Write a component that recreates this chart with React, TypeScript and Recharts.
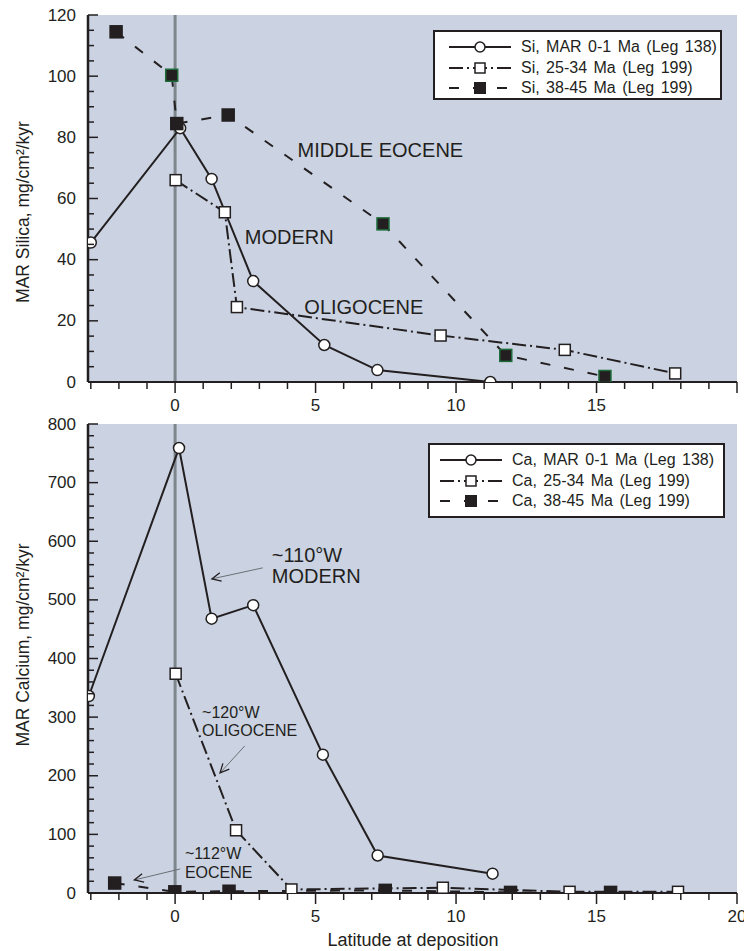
import React from 'react';
import {
  CartesianGrid,
  Legend,
  Line,
  LineChart,
  ReferenceDot,
  ReferenceLine,
  XAxis,
  YAxis,
} from 'recharts';

const FONT = '"Liberation Sans", Arial, Helvetica, sans-serif';
const INK = '#231f20';
const BG = '#cbd3e2';
const ZERO = '#7d868c';
const EDGE = '#1e6b3a';
const ARROW = '#6b6f75';

// latitude axis
const latDomain = [-3.1, 20];
const latMinor = [-3, -2, -1, 0, 1, 2, 3, 4, 5, 6, 7, 8, 9, 10, 11, 12, 13, 14, 15, 16, 17, 18, 19, 20];
const siLatLabels = [0, 5, 10, 15];
const caLatLabels = [0, 5, 10, 15, 20];

// silica panel
const siLabels = [0, 20, 40, 60, 80, 100, 120];
const siModernLat = [-3.0, 0.18, 1.3, 2.78, 5.31, 7.2, 11.22];
const siModernMar = [45.6, 83, 66.4, 33, 12.1, 3.9, 0];
const siOligoLat = [0.02, 1.77, 2.2, 9.45, 13.87, 17.8];
const siOligoMar = [66, 55.5, 24.5, 15.2, 10.5, 2.8];
const siEoceneLat = [-2.1, -0.12, 0.06, 1.89, 7.4, 11.77, 15.3];
const siEoceneMar = [114.5, 100.3, 84.5, 87.3, 51.7, 8.7, 1.8];
const siEoceneEdged = [1, 4, 5, 6];
const siNames = ['Si, MAR 0-1 Ma (Leg 138)', 'Si, 25-34 Ma (Leg 199)', 'Si, 38-45 Ma (Leg 199)'];

// calcium panel
const caLabels = [0, 100, 200, 300, 400, 500, 600, 700, 800];
const caModernLat = [-3.07, 0.14, 1.3, 2.78, 5.26, 7.21, 11.3];
const caModernMar = [336, 759, 468, 491, 236, 64, 33];
const caOligoLat = [0.02, 2.17, 4.14, 9.53, 14.04, 17.9];
const caOligoMar = [374, 107, 6, 9, 2, 2];
const caEoceneLat = [-2.15, -0.01, 1.92, 7.48, 11.94, 15.5];
const caEoceneMar = [17, 2, 3, 4.5, 1, 1];
const caNames = ['Ca, MAR 0-1 Ma (Leg 138)', 'Ca, 25-34 Ma (Leg 199)', 'Ca, 38-45 Ma (Leg 199)'];

const zip = (lat: number[], mar: number[]) => lat.map((x, i) => ({ lat: x, mar: mar[i] }));
const steps = (max: number, step: number) => {
  const out: number[] = [];
  for (let v = 0; v <= max; v += step) out.push(v);
  return out;
};

// ---- marks ----
const OpenCircle = (p: any) =>
  p.cx == null ? <g /> : <circle cx={p.cx} cy={p.cy} r={5.5} fill="#fff" stroke={INK} strokeWidth={1.5} />;

const OpenSquare = (p: any) =>
  p.cx == null ? <g /> : <rect x={p.cx - 5.5} y={p.cy - 5.5} width={11} height={11} fill="#fff" stroke={INK} strokeWidth={1.5} />;

const filledSquare = (edged: number[]) => (p: any) =>
  p.cx == null ? (
    <g />
  ) : (
    <rect
      x={p.cx - 6}
      y={p.cy - 6}
      width={12}
      height={12}
      fill={INK}
      stroke={edged.includes(p.index) ? EDGE : INK}
      strokeWidth={1.5}
    />
  );

// ---- ticks ----
const bottomTick = (labels: number[]) => (p: any) => {
  const v = p.payload.value;
  const major = v % 5 === 0;
  return (
    <g>
      <line x1={p.x} x2={p.x} y1={p.y} y2={p.y + (major ? 11 : 7)} stroke={INK} strokeWidth={1.5} />
      {labels.includes(v) && (
        <text x={p.x} y={p.y + 23} textAnchor="middle" dominantBaseline="central" fill={INK} fontSize={17} fontFamily={FONT}>
          {v}
        </text>
      )}
    </g>
  );
};

const topTick = (p: any) => {
  const major = p.payload.value % 5 === 0;
  return <line x1={p.x} x2={p.x} y1={p.y} y2={p.y + (major ? 10 : 6)} stroke={INK} strokeWidth={1.5} />;
};

const leftTick = (labels: number[]) => (p: any) => {
  const v = p.payload.value;
  const major = labels.includes(v);
  return (
    <g>
      <line x1={p.x} x2={p.x + (major ? 10 : 6)} y1={p.y} y2={p.y} stroke={INK} strokeWidth={1.5} />
      {major && (
        <text x={p.x - 12} y={p.y} textAnchor="end" dominantBaseline="central" fill={INK} fontSize={17} fontFamily={FONT}>
          {v}
        </text>
      )}
    </g>
  );
};

const rightTick = (labels: number[]) => (p: any) => {
  const major = labels.includes(p.payload.value);
  return <line x1={p.x - (major ? 10 : 6)} x2={p.x} y1={p.y} y2={p.y} stroke={INK} strokeWidth={1.5} />;
};

const rotatedTitle = (text: string, cx: number, cy: number) => () => (
  <text
    x={cx}
    y={cy}
    transform={`rotate(-90 ${cx} ${cy})`}
    textAnchor="middle"
    dominantBaseline="central"
    fill={INK}
    fontSize={17.5}
    fontFamily={FONT}
  >
    {text}
  </text>
);

const flatTitle = (text: string, cx: number, cy: number) => () => (
  <text x={cx} y={cy} textAnchor="middle" dominantBaseline="central" fill={INK} fontSize={18} fontFamily={FONT}>
    {text}
  </text>
);

// ---- annotations ----
const note = (lines: string[], size: number, gap: number) => (p: any) => {
  const { x, y } = p.viewBox;
  return (
    <text x={x} y={y} fill={INK} fontSize={size} fontFamily={FONT} dominantBaseline="central">
      {lines.map((t, i) => (
        <tspan key={i} x={x} dy={i === 0 ? 0 : gap}>
          {t}
        </tspan>
      ))}
    </text>
  );
};

const ArrowShape = (p: any) => {
  const { x1, y1, x2, y2 } = p;
  if (x1 == null) return <g />;
  const a = Math.atan2(y2 - y1, x2 - x1);
  const len = 10;
  const h1x = x2 - len * Math.cos(a - 0.45);
  const h1y = y2 - len * Math.sin(a - 0.45);
  const h2x = x2 - len * Math.cos(a + 0.45);
  const h2y = y2 - len * Math.sin(a + 0.45);
  return (
    <g>
      <line x1={x1} y1={y1} x2={x2} y2={y2} stroke={ARROW} strokeWidth={1} />
      <polyline points={`${h1x},${h1y} ${x2},${y2} ${h2x},${h2y}`} fill="none" stroke={INK} strokeWidth={1.3} />
    </g>
  );
};

// ---- legend ----
const dashes = [undefined, '14 4 2 4', '10 14'];

const LegendBox = ({ payload, names, padLeft }: any) => {
  const entries = [...(payload || [])].sort((a: any, b: any) => names.indexOf(a.value) - names.indexOf(b.value));
  return (
    <div
      style={{
        boxSizing: 'border-box',
        border: `2px solid ${INK}`,
        background: '#fff',
        padding: `5px 0 2px ${padLeft}px`,
        fontFamily: FONT,
        fontSize: 16,
        color: INK,
        height: '100%',
        textAlign: 'left',
      }}
    >
      {entries.map((entry: any) => {
        const kind = names.indexOf(entry.value);
        return (
          <div key={entry.value} style={{ display: 'flex', alignItems: 'center', height: 20.5 }}>
            <svg width={66} height={16} style={{ marginRight: 8, flex: 'none' }}>
              <line x1={2} y1={8} x2={64} y2={8} stroke={INK} strokeWidth={2} strokeDasharray={dashes[kind]} />
              {kind === 0 && <circle cx={33} cy={8} r={5} fill="#fff" stroke={INK} strokeWidth={1.5} />}
              {kind === 1 && <rect x={28} y={3} width={10} height={10} fill="#fff" stroke={INK} strokeWidth={1.5} />}
              {kind === 2 && <rect x={27} y={2} width={12} height={12} fill={INK} />}
            </svg>
            <span style={{ wordSpacing: 2, whiteSpace: 'nowrap' }}>{entry.value}</span>
          </div>
        );
      })}
    </div>
  );
};

type PanelProps = {
  height: number;
  marginTop: number;
  axisHeight: number;
  yMax: number;
  yMinorStep: number;
  yLabels: number[];
  latLabels: number[];
  title: string;
  titleY: number;
  legendBox: { left: number; top: number; width: number; height: number };
  legendPad: number;
  names: string[];
  series: { lat: number[]; mar: number[] }[];
  edged: number[];
  children?: React.ReactNode;
  xTitleY?: number;
};

const Panel = (props: PanelProps) => {
  const yTicks = steps(props.yMax, props.yMinorStep);
  const dots = [OpenCircle, OpenSquare, filledSquare(props.edged)];
  return (
    <LineChart
      width={744}
      height={props.height}
      margin={{ top: props.marginTop, right: 7, bottom: 0, left: 0 }}
      style={{ fontFamily: FONT }}
    >
      <CartesianGrid fill={BG} fillOpacity={1} horizontal={false} vertical verticalValues={[0]} stroke={ZERO} strokeWidth={3} />
      <XAxis
        dataKey="lat"
        type="number"
        domain={latDomain}
        allowDataOverflow
        ticks={latMinor}
        interval={0}
        height={props.axisHeight}
        tickSize={0}
        tickMargin={0}
        tickLine={false}
        axisLine={{ stroke: INK, strokeWidth: 2 }}
        tick={bottomTick(props.latLabels)}
        label={props.xTitleY ? flatTitle('Latitude at deposition', 413, props.xTitleY) : undefined}
      />
      <XAxis
        xAxisId="top"
        orientation="top"
        type="number"
        domain={latDomain}
        allowDataOverflow
        ticks={latMinor}
        interval={0}
        height={0}
        tickSize={0}
        tickMargin={0}
        tickLine={false}
        axisLine={{ stroke: INK, strokeWidth: 2 }}
        tick={topTick}
      />
      <YAxis
        type="number"
        domain={[0, props.yMax]}
        allowDataOverflow
        ticks={yTicks}
        interval={0}
        width={88}
        tickSize={0}
        tickMargin={0}
        tickLine={false}
        axisLine={{ stroke: INK, strokeWidth: 2.5 }}
        tick={leftTick(props.yLabels)}
        label={rotatedTitle(props.title, 23, props.titleY)}
      />
      <YAxis
        yAxisId="right"
        orientation="right"
        type="number"
        domain={[0, props.yMax]}
        allowDataOverflow
        ticks={yTicks}
        interval={0}
        width={0}
        tickSize={0}
        tickMargin={0}
        tickLine={false}
        axisLine={{ stroke: INK, strokeWidth: 2 }}
        tick={rightTick(props.yLabels)}
      />
      {props.series.map((s, i) => (
        <Line
          key={props.names[i]}
          name={props.names[i]}
          data={zip(s.lat, s.mar)}
          dataKey="mar"
          type="linear"
          stroke={INK}
          strokeWidth={2}
          strokeDasharray={dashes[i]}
          dot={dots[i]}
          activeDot={false}
          isAnimationActive={false}
        />
      ))}
      {props.children}
      <Legend
        layout="vertical"
        align="center"
        verticalAlign="middle"
        wrapperStyle={{ position: 'absolute', ...props.legendBox }}
        content={(p: any) => <LegendBox payload={p.payload} names={props.names} padLeft={props.legendPad} />}
      />
    </LineChart>
  );
};

export default function App() {
  return (
    <div style={{ position: 'absolute', left: 0, top: 0, width: 744, height: 951, background: '#fff' }}>
      <Panel
        height={416}
        marginTop={15}
        axisHeight={34}
        yMax={120}
        yMinorStep={5}
        yLabels={siLabels}
        latLabels={siLatLabels}
        title="MAR Silica, mg/cm²/kyr"
        titleY={212}
        legendBox={{ left: 433, top: 30, width: 289, height: 70 }}
        legendPad={12}
        names={siNames}
        edged={siEoceneEdged}
        series={[
          { lat: siModernLat, mar: siModernMar },
          { lat: siOligoLat, mar: siOligoMar },
          { lat: siEoceneLat, mar: siEoceneMar },
        ]}
      >
        <ReferenceDot x={4.36} y={75.9} r={0} stroke="none" label={note(['MIDDLE EOCENE'], 20, 0)} />
        <ReferenceDot x={2.48} y={47.4} r={0} stroke="none" label={note(['MODERN'], 20, 0)} />
        <ReferenceDot x={4.6} y={24.5} r={0} stroke="none" label={note(['OLIGOCENE'], 20, 0)} />
      </Panel>
      <Panel
        height={535}
        marginTop={8}
        axisHeight={58}
        yMax={800}
        yMinorStep={20}
        yLabels={caLabels}
        latLabels={caLatLabels}
        title="MAR Calcium, mg/cm²/kyr"
        titleY={229}
        legendBox={{ left: 428, top: 27, width: 297, height: 75 }}
        legendPad={8}
        names={caNames}
        edged={[]}
        xTitleY={524}
        series={[
          { lat: caModernLat, mar: caModernMar },
          { lat: caOligoLat, mar: caOligoMar },
          { lat: caEoceneLat, mar: caEoceneMar },
        ]}
      >
        <ReferenceLine segment={[{ x: 3.12, y: 554.6 }, { x: 1.31, y: 535.8 }]} shape={ArrowShape} />
        <ReferenceLine segment={[{ x: 2.48, y: 250.9 }, { x: 1.6, y: 204.8 }]} shape={ArrowShape} />
        <ReferenceLine segment={[{ x: 0.18, y: 41 }, { x: -1.45, y: 22.2 }]} shape={ArrowShape} />
        <ReferenceDot x={3.44} y={576.8} r={0} stroke="none" label={note(['~110°W', 'MODERN'], 20, 21)} />
        <ReferenceDot x={0.96} y={309} r={0} stroke="none" label={note(['~120°W', 'OLIGOCENE'], 16, 18)} />
        <ReferenceDot x={0.35} y={68} r={0} stroke="none" label={note(['~112°W', 'EOCENE'], 16, 19)} />
      </Panel>
    </div>
  );
}
